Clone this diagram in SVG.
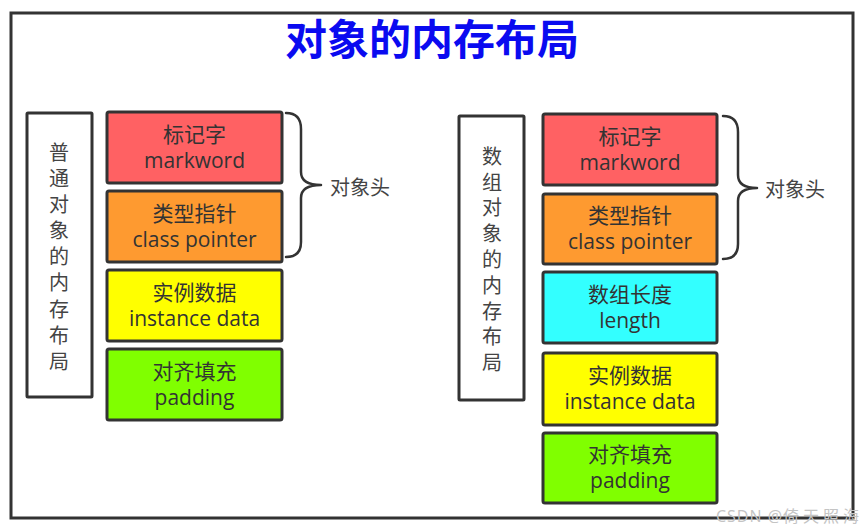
<svg xmlns="http://www.w3.org/2000/svg" width="865" height="531" viewBox="0 0 865 531">
<style>
text { font-family: "Open Sans", "Noto Sans CJK SC", sans-serif; }
.frame { fill: #ffffff; stroke: #333333; stroke-width: 3; }
.box { stroke: #333333; stroke-width: 3; }
.lbl { font-size: 21px; fill: #333333; text-anchor: middle; }
.vtxt { font-size: 20px; fill: #444444; text-anchor: middle; }
.brace { fill: none; stroke: #333333; stroke-width: 2.5; stroke-linecap: round; stroke-linejoin: round; }
.side { font-size: 20px; fill: #444444; }
.red { fill: #ff6163; }
.orange { fill: #fe9a30; }
.yellow { fill: #ffff00; }
.green { fill: #80ff00; }
.cyan { fill: #33ffff; }
</style>
<rect x="0" y="0" width="865" height="531" fill="#ffffff"/>
<rect id="frame" class="frame" x="11" y="13" width="842" height="505"/>
<text id="title" x="432" y="55" font-size="42" font-weight="bold" fill="#0a0af0" text-anchor="middle">对象的内存布局</text>

<g id="left-label">
  <rect class="frame" x="27" y="113" width="65" height="284" rx="1"/>
  <text class="vtxt" x="59">
    <tspan x="59" y="160">普</tspan><tspan x="59" y="186">通</tspan><tspan x="59" y="212">对</tspan><tspan x="59" y="238">象</tspan><tspan x="59" y="264">的</tspan><tspan x="59" y="290">内</tspan><tspan x="59" y="317">存</tspan><tspan x="59" y="343">布</tspan><tspan x="59" y="369">局</tspan>
  </text>
</g>

<g id="l-markword">
  <rect class="box red" x="107" y="112" width="175" height="71" rx="2"/>
  <text class="lbl" x="194.5" y="142">标记字</text>
  <text class="lbl" x="194.5" y="168">markword</text>
</g>
<g id="l-classpointer">
  <rect class="box orange" x="107" y="191" width="175" height="71" rx="2"/>
  <text class="lbl" x="194.5" y="221">类型指针</text>
  <text class="lbl" x="194.5" y="247">class pointer</text>
</g>
<g id="l-instancedata">
  <rect class="box yellow" x="107" y="270" width="175" height="71" rx="2"/>
  <text class="lbl" x="194.5" y="300">实例数据</text>
  <text class="lbl" x="194.5" y="326">instance data</text>
</g>
<g id="l-padding">
  <rect class="box green" x="107" y="349" width="175" height="71" rx="2"/>
  <text class="lbl" x="194.5" y="379">对齐填充</text>
  <text class="lbl" x="194.5" y="405">padding</text>
</g>
<g id="l-header">
  <text class="side" x="330" y="195">对象头</text>
</g>

<g id="right-label">
  <rect class="frame" x="459" y="116" width="65" height="284" rx="1"/>
  <text class="vtxt" x="492">
    <tspan x="492" y="164">数</tspan><tspan x="492" y="190">组</tspan><tspan x="492" y="215">对</tspan><tspan x="492" y="241">象</tspan><tspan x="492" y="267">的</tspan><tspan x="492" y="293">内</tspan><tspan x="492" y="319">存</tspan><tspan x="492" y="344">布</tspan><tspan x="492" y="370">局</tspan>
  </text>
</g>

<g id="r-markword">
  <rect class="box red" x="543" y="114" width="174" height="71" rx="2"/>
  <text class="lbl" x="630" y="144">标记字</text>
  <text class="lbl" x="630" y="170">markword</text>
</g>
<g id="r-classpointer">
  <rect class="box orange" x="543" y="194" width="174" height="70" rx="2"/>
  <text class="lbl" x="630" y="223">类型指针</text>
  <text class="lbl" x="630" y="249">class pointer</text>
</g>
<g id="r-length">
  <rect class="box cyan" x="543" y="272" width="174" height="71" rx="2"/>
  <text class="lbl" x="630" y="302">数组长度</text>
  <text class="lbl" x="630" y="328">length</text>
</g>
<g id="r-instancedata">
  <rect class="box yellow" x="543" y="353" width="174" height="72" rx="2"/>
  <text class="lbl" x="630" y="383">实例数据</text>
  <text class="lbl" x="630" y="409">instance data</text>
</g>
<g id="r-padding">
  <rect class="box green" x="543" y="433" width="174" height="70" rx="2"/>
  <text class="lbl" x="630" y="462">对齐填充</text>
  <text class="lbl" x="630" y="488">padding</text>
</g>
<g id="r-header">
  <text class="side" x="765" y="197">对象头</text>
</g>

<g id="connectors">
  <path class="brace" d="M286,113 Q301,113 301,129 L301,172 Q301,185 321,185 Q301,185 301,198 L301,242 Q301,257 286,257"/>
  <path class="brace" d="M723,116 Q738,116 738,132 L738,175 Q738,188 757,188 Q738,188 738,201 L738,244 Q738,259 723,259"/>
</g>

<text id="watermark" x="716" y="522" font-size="16" fill="#c4c4c4" letter-spacing="1">CSDN @<tspan letter-spacing="4">倚天照海</tspan></text>
</svg>
